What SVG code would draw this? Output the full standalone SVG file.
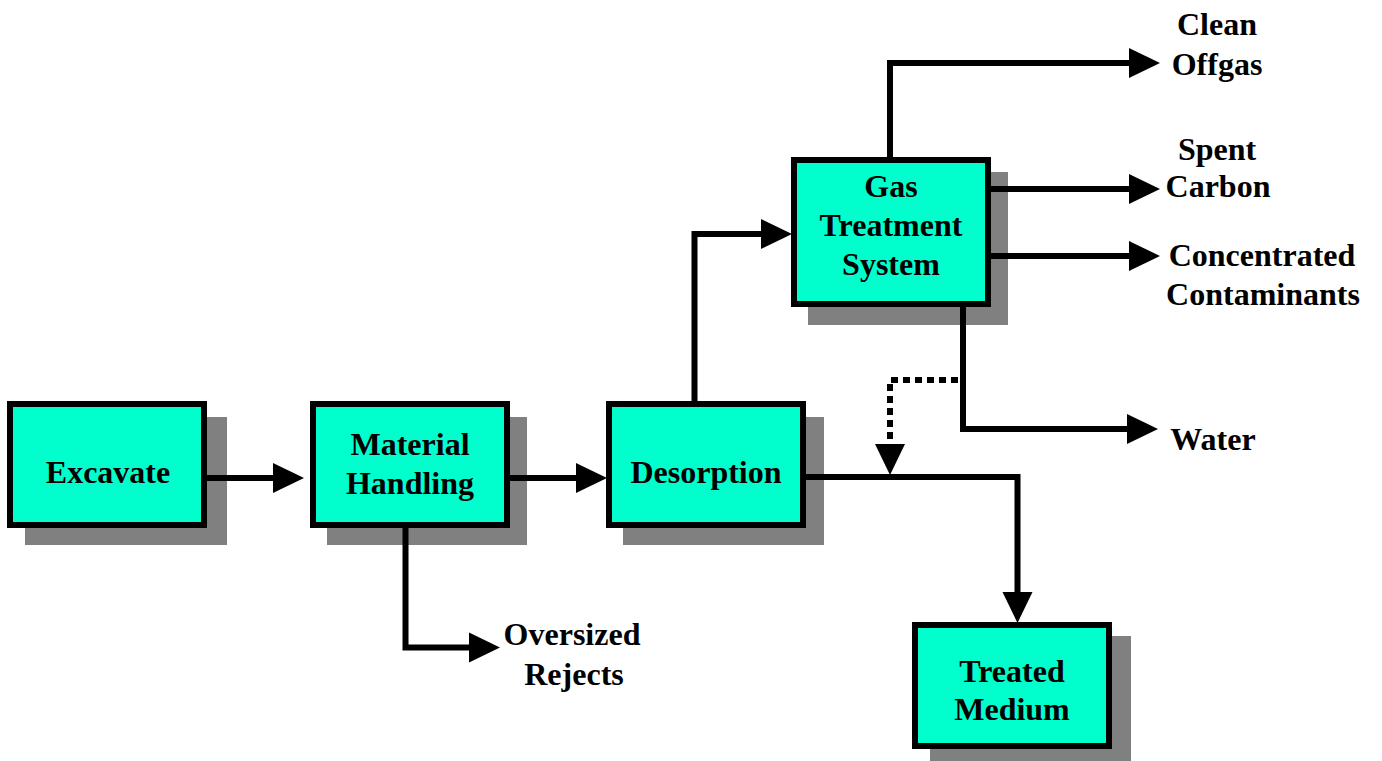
<svg xmlns="http://www.w3.org/2000/svg" width="1382" height="761" viewBox="0 0 1382 761">
  <style>
    .shadow { fill: #808080; }
    .box { fill: #00FFCC; stroke: #000; stroke-width: 6; }
    .lbl { font-family: "Liberation Serif", "Times New Roman", serif; font-weight: bold; font-size: 32px; fill: #000; text-anchor: middle; }
    .flow { fill: none; stroke: #000; stroke-width: 6; stroke-linejoin: miter; marker-end: url(#arrow); }
    .dotted { stroke-dasharray: 7 5; }
  </style>
  <defs>
    <marker id="arrow" markerUnits="userSpaceOnUse" markerWidth="31" markerHeight="30" refX="6" refY="15" orient="auto" overflow="visible">
      <path d="M0,0 L31,15 L0,30 Z" fill="#000"/>
    </marker>
  </defs>
  <rect width="1382" height="761" fill="#fff"/>

  <!-- process boxes -->
  <g id="excavate">
    <rect class="shadow" x="25" y="417" width="202" height="128"/>
    <rect class="box" x="10" y="404" width="194" height="121"/>
    <text class="lbl" x="108" y="483">Excavate</text>
  </g>
  <g id="material-handling">
    <rect class="shadow" x="327" y="417" width="200" height="128"/>
    <rect class="box" x="313" y="404" width="194" height="121"/>
    <text class="lbl" x="410" y="455">Material</text>
    <text class="lbl" x="410" y="494">Handling</text>
  </g>
  <g id="desorption">
    <rect class="shadow" x="623" y="417" width="201" height="128"/>
    <rect class="box" x="609" y="404" width="194" height="121"/>
    <text class="lbl" x="706" y="483">Desorption</text>
  </g>
  <g id="gas-treatment">
    <rect class="shadow" x="808" y="172" width="200" height="153"/>
    <rect class="box" x="794" y="160" width="194" height="144"/>
    <text class="lbl" x="891" y="197">Gas</text>
    <text class="lbl" x="891" y="236">Treatment</text>
    <text class="lbl" x="891" y="275">System</text>
  </g>
  <g id="treated-medium">
    <rect class="shadow" x="930" y="636" width="201" height="125"/>
    <rect class="box" x="915" y="625" width="194" height="121"/>
    <text class="lbl" x="1012" y="682">Treated</text>
    <text class="lbl" x="1012" y="720">Medium</text>
  </g>

  <!-- connectors, drawn over the drop shadows -->
  <g id="connectors">
    <path class="flow" d="M207,478 H279"/>
    <path class="flow" d="M510,478 H582"/>
    <path class="flow" d="M694.5,401 V234 H767"/>
    <path class="flow" d="M890,157 V63 H1135"/>
    <path class="flow" d="M991,189 H1135"/>
    <path class="flow" d="M991,256 H1135"/>
    <path class="flow" d="M963,307 V429 H1133"/>
    <path class="flow dotted" d="M958,380 H890 V450"/>
    <path class="flow" d="M805,477 H1017.5 V598"/>
    <path class="flow" d="M405.5,528 V647.5 H475"/>
  </g>

  <!-- output labels -->
  <g id="clean-offgas">
    <text class="lbl" x="1217" y="35">Clean</text>
    <text class="lbl" x="1217" y="75">Offgas</text>
  </g>
  <g id="spent-carbon">
    <text class="lbl" x="1217" y="160">Spent</text>
    <text class="lbl" x="1218" y="197">Carbon</text>
  </g>
  <g id="concentrated-contaminants">
    <text class="lbl" x="1262" y="266">Concentrated</text>
    <text class="lbl" x="1263" y="305">Contaminants</text>
  </g>
  <g id="water">
    <text class="lbl" x="1213" y="450">Water</text>
  </g>
  <g id="oversized-rejects">
    <text class="lbl" x="572" y="645">Oversized</text>
    <text class="lbl" x="574" y="685">Rejects</text>
  </g>
</svg>
